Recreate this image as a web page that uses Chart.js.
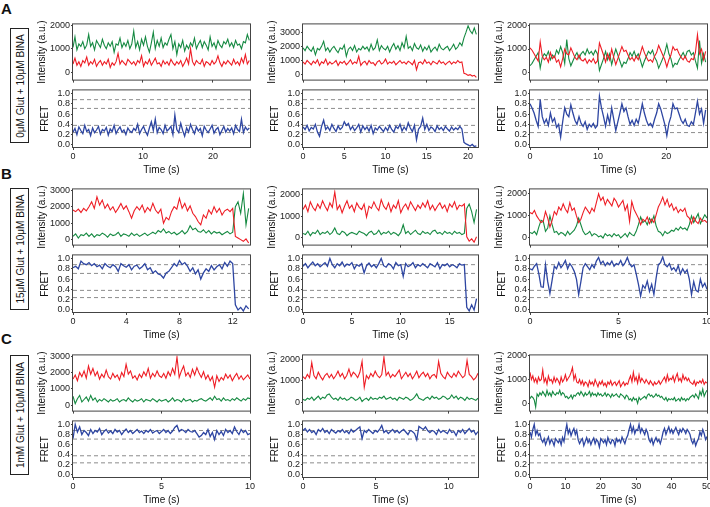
<!DOCTYPE html>
<html>
<head>
<meta charset="utf-8">
<script src="https://cdn.jsdelivr.net/npm/chart.js"></script>
<style>
  body { margin: 0; width: 710px; height: 507px; overflow: hidden; background: #fff; position: relative;
         font-family: "Liberation Sans", Arial, Helvetica, sans-serif; color: #111; }
  canvas { position: absolute; }
  .tag { position: absolute; left: 1px; font-weight: bold; font-size: 15px; line-height: 15px; }
  .cond { position: absolute; left: 10px; width: 19px; border: 1px solid #222; box-sizing: border-box; }
  .cond span { position: absolute; left: 50%; top: 50%; transform: translate(-50%, -50%) rotate(-90deg);
               white-space: nowrap; font-size: 10px; }
</style>
</head>
<body>
<div class="tag" style="top:1px">A</div>
<div class="tag" style="top:166px">B</div>
<div class="tag" style="top:331px">C</div>
<div class="cond" style="top:28px;height:115px"><span>0μM Glut + 10μM BINA</span></div>
<div class="cond" style="top:188px;height:122px"><span>15μM Glut + 10μM BINA</span></div>
<div class="cond" style="top:355px;height:120px"><span>1mM Glut + 10μM BINA</span></div>

<script>
// ---- data (frame time in s, intensities in a.u., FRET efficiency) ----
const fretLevels = [0.88, 0.71, 0.38, 0.24];
const fretTicks = [0, 0.2, 0.4, 0.6, 0.8, 1.0];
const intTicks2k = [0, 1000, 2000];
const intTicks3k = [0, 1000, 2000, 3000];

// A: 0µM Glut
const a1Dt = 0.28;
const a1Time = [0, 10, 20];
const a1Green = [1050,1500,950,1200,1100,1300,1000,1150,1600,1100,
  1250,950,1350,1200,1050,1400,1150,1000,1250,1100,
  1300,850,1200,1150,1450,1050,1250,1100,1350,1000,
  1200,1750,1050,1300,950,1400,1150,1500,1100,850,
  1250,1700,1000,1350,1100,1450,1050,1250,1150,1400,
  1600,1000,1300,750,1200,1050,1350,900,1150,1000,
  1250,1100,1450,1000,1200,1350,1050,1300,1150,950,
  1500,1100,1250,1000,1350,1150,1050,1300,1200,1400,
  1100,1250,1050,1350,1150,1200,1000,1300,1250,1600,1350];
const a1Red = [350,600,300,450,250,500,400,650,300,450,
  350,550,250,400,500,300,450,350,550,200,
  400,300,450,800,350,500,400,300,550,450,
  350,450,300,500,400,700,250,450,350,550,
  300,450,600,350,400,250,500,350,450,300,
  550,400,300,450,350,500,250,400,600,350,
  1000,450,300,500,400,350,550,250,450,400,
  300,500,350,450,700,400,250,450,350,500,
  400,300,550,350,450,300,600,400,750,350,500];
const a1Fret = [.25,.32,.2,.35,.28,.22,.38,.26,.3,.18,
  .33,.24,.29,.36,.21,.3,.27,.34,.19,.31,
  .26,.38,.22,.3,.35,.25,.29,.2,.33,.27,
  .24,.32,.28,.4,.22,.3,.36,.26,.19,.33,
  .45,.28,.5,.24,.34,.3,.22,.38,.27,.31,
  .36,.2,.58,.3,.24,.42,.28,.17,.33,.25,
  .4,.3,.22,.35,.27,.32,.18,.36,.29,.24,
  .31,.38,.23,.3,.34,.2,.28,.36,.25,.32,
  .27,.33,.22,.38,.3,.26,.5,.24,.35,.29,.33];

const a2Dt = 0.25;
const a2Time = [0, 5, 10, 15, 20];
const a2Green = [1900,1700,2000,1800,1650,1950,1400,1850,1750,2000,
  2350,1700,1900,1600,1850,2000,1750,1550,1900,1800,
  2100,1300,1800,1950,1700,2050,1600,1850,1750,2000,
  1800,1950,1650,2150,1750,1900,2450,1700,2050,1850,
  1750,2000,1600,1950,2200,1800,2050,1700,2250,1900,
  2700,1850,2000,1700,2200,1900,1800,2100,1650,1950,
  1750,2050,1600,1800,1950,1700,2150,1850,1750,1900,
  2000,1700,1900,2150,1800,1950,2250,2050,
  2600,3000,3450,3100,2900,3300,2850];
const a2Red = [900,750,1000,850,700,950,800,1050,650,900,
  800,1100,700,900,750,850,1000,650,900,800,
  950,700,850,1050,750,900,800,1300,650,850,
  950,700,1000,800,850,650,900,1000,750,850,
  1100,750,900,800,950,700,850,1000,800,900,
  750,950,850,700,1000,350,850,900,750,1050,
  800,900,700,950,850,750,1000,800,900,700,
  850,950,750,900,800,1000,850,900,
  100,50,-50,0,-100,-50,-200];
const a2Fret = [.35,.3,.38,.27,.34,.31,.4,.25,.17,.36,
  .48,.3,.35,.28,.4,.32,.26,.37,.3,.34,
  .45,.38,.42,.3,.36,.28,.33,.4,.25,.37,
  .3,.35,.27,.38,.22,.33,.29,.36,.31,.26,
  .34,.28,.38,.3,.25,.36,.32,.4,.27,.35,
  .29,.43,.33,.26,.38,.1,.31,.36,.52,.3,
  .4,.28,.35,.32,.26,.37,.3,.34,.28,.36,
  .31,.27,.35,.29,.33,.3,.36,.31,
  .05,.02,0,-.02,.01,-.03,-.02];

const a3Dt = 0.3;
const a3Time = [0, 10, 20];
const a3Red = [1050,950,800,650,500,1300,700,550,650,450,
  850,600,700,450,550,250,600,1000,800,750,
  1050,850,650,550,750,550,500,600,400,550,
  450,600,400,500,1250,1000,750,450,800,550,
  1000,650,350,600,850,1100,900,950,750,550,
  650,500,700,550,800,1100,850,650,500,550,
  450,700,850,1150,950,750,550,250,550,750,
  1100,950,1000,800,650,550,700,500,450,600,
  550,850,1600,800,1000,550,900];
const a3Green = [300,400,550,700,850,200,650,800,700,900,
  550,750,650,950,800,1100,850,400,1400,600,
  300,500,700,850,600,800,900,750,1000,800,
  900,750,950,800,100,350,600,900,550,800,
  350,700,1000,750,500,250,450,400,600,850,
  700,900,650,800,550,250,500,700,900,800,
  950,650,500,200,400,600,850,1200,800,600,
  250,400,350,550,700,850,650,900,950,750,
  850,500,200,1350,400,800,450];
const a3Fret = [.8,.72,.62,.48,.36,.88,.55,.42,.5,.38,
  .62,.45,.52,.34,.4,.15,.45,.72,.6,.55,
  .78,.62,.48,.4,.55,.42,.36,.45,.3,.4,
  .35,.42,.33,.38,.95,.72,.55,.36,.58,.42,
  .72,.5,.28,.45,.62,.8,.65,.72,.55,.4,
  .48,.38,.5,.42,.6,.8,.62,.48,.38,.42,
  .35,.5,.62,.8,.7,.55,.4,.18,.42,.55,
  .8,.7,.72,.6,.48,.42,.5,.38,.36,.45,
  .4,.62,.85,.6,.7,.42,.68];

// B: 15µM Glut
const b1Dt = 0.2;
const b1Time = [0, 4, 8, 12];
const b1Red = [1800,1700,1850,1650,1900,1750,2000,2300,1900,2600,
  2100,2400,1900,2150,1800,2000,1650,1900,2200,1850,
  2050,1700,1300,1750,2000,1800,2100,1650,1950,1750,
  2200,1800,1600,1850,1000,1350,1200,1700,2000,1850,
  2500,1900,2200,1750,2050,1600,1400,1100,900,1500,
  1300,1800,1550,2000,1650,1900,1500,1750,1850,1700,
  1900,200,100,0,-100,50,-200];
const b1Green = [200,350,100,300,250,400,200,350,150,300,
  250,400,300,150,350,250,300,450,200,350,
  300,200,400,250,350,200,300,400,250,350,
  450,350,550,450,650,400,500,350,450,300,
  400,550,350,500,850,600,700,500,450,600,
  400,550,350,500,400,450,300,400,500,350,
  450,2000,2300,1600,2800,900,1900];
const b1Fret = [.82,.85,.8,.95,.9,.88,.92,.86,.9,.84,
  .87,.8,.9,.85,.82,.88,.84,.75,.9,.86,
  .83,.88,.78,.85,.87,.8,.84,.9,.78,.82,
  .72,.76,.7,.68,.62,.72,.75,.82,.9,.85,
  .96,.88,.92,.85,.75,.82,.7,.78,.6,.72,
  .8,.75,.86,.78,.84,.88,.8,.92,.85,.95,
  .9,.1,0,.05,-.02,.08,.02];

const b2Dt = 0.25;
const b2Time = [0, 5, 10, 15];
const b2Red = [1300,1500,1200,1650,1400,1250,1550,1350,1700,1450,
  1250,1600,1400,2100,1300,1500,1150,1450,1700,1350,
  1500,1200,1600,1400,1300,1550,950,1450,1350,1650,
  1400,1250,1750,1450,1300,1600,1200,1500,1350,1700,
  1150,1400,1550,1300,1650,1450,1250,1500,1350,1600,
  1400,1700,1300,1500,1250,1450,1600,1350,1500,1200,
  1550,1400,1650,1300,1500,1450,1550,50,-150,-50,-200,50];
const b2Green = [200,150,300,100,250,200,350,150,250,200,
  300,150,250,450,200,150,300,250,100,200,
  250,200,150,300,250,200,100,250,300,150,
  200,350,150,250,200,300,150,250,200,100,
  250,600,200,300,150,250,350,200,150,300,
  200,250,150,300,350,200,250,150,300,200,
  250,150,300,200,250,150,200,1350,1550,1200,700,1300];
const b2Fret = [.85,.9,.82,.88,.93,.86,.9,.84,.88,.92,
  .85,1.0,.88,.82,.9,.86,.93,.84,.89,.87,
  .92,.8,.88,.85,.9,.72,.86,.91,.84,.88,
  .82,.9,1.0,.86,.83,.9,.87,.8,.92,.86,
  .88,.65,.9,.84,.87,.92,.82,.88,.85,.9,
  .86,.82,.9,.87,.84,.92,.8,.88,.86,.9,
  .84,.88,.86,.82,.9,.87,.88,.05,-.02,.1,0,.22];

const b3Dt = 0.125;
const b3Time = [0, 5, 10];
const b3Red = [1150,1100,1250,1000,850,700,750,1200,900,500,
  800,1200,1050,1400,1250,1550,1300,1150,1600,1250,
  1350,1000,700,850,1150,1400,1250,1100,1350,1200,
  1600,2000,1700,1850,1500,1750,1600,1450,1800,1650,
  1400,1550,1700,1250,1500,750,1650,1300,1100,900,
  600,850,750,950,650,850,700,1050,1400,1600,
  1850,1500,1750,1400,1550,1250,1400,1150,1300,1200,
  1350,1000,900,650,950,750,650,900,750,800,700];
const b3Green = [250,200,300,150,500,800,750,300,450,1000,
  600,250,300,150,250,200,100,300,150,250,
  350,550,900,600,300,150,200,300,100,200,
  150,50,100,0,200,100,150,50,200,100,
  150,0,100,200,50,250,150,100,300,600,
  950,700,800,600,900,700,1000,550,300,250,
  100,300,200,250,350,300,450,350,500,400,
  450,350,600,1000,700,900,1100,650,850,1050,900];
const b3Fret = [.8,.78,.85,.9,.7,.45,.44,.88,.55,.32,
  .58,.85,.8,.92,.82,.88,.96,.8,.9,.84,
  .75,.6,.3,.55,.82,.9,.84,.78,.88,.82,
  .95,1.02,.9,.95,.86,.92,.88,.95,.85,.9,
  .88,.96,.86,.92,1.02,.9,.84,.88,.7,.5,
  .27,.48,.42,.56,.36,.5,.3,.62,.88,.92,
  1.03,.88,.84,.9,.78,.82,.75,.86,.7,.8,
  .72,.78,.6,.3,.55,.38,.35,.6,.45,.52,.4];

// C: 1mM Glut
const c1Dt = 0.125;
const c1Time = [0, 5, 10];
const c1Red = [1600,1850,1500,2000,1750,2100,1650,2400,1900,2250,
  1800,2050,1600,1900,1700,2150,1750,1600,1950,1700,
  1850,1550,2000,1750,2500,1900,2100,1650,1800,1550,
  1900,1700,2050,1800,2250,1650,1950,1750,2100,1800,
  1700,1950,1650,2050,1800,2250,1900,2950,1700,2100,
  2400,1800,2000,1700,2200,1850,2300,1950,1700,2050,
  1600,1850,1500,1750,1100,1800,1450,1700,1550,1900,
  1650,1850,1500,1750,1950,1600,1800,1550,1700,1850,1600];
const c1Green = [550,100,400,600,200,350,500,250,600,300,
  450,200,350,250,400,300,200,350,250,300,
  400,200,300,350,250,450,300,200,350,250,
  300,400,200,350,300,250,400,300,200,350,
  250,300,350,200,300,450,250,350,300,200,
  400,250,300,350,200,300,250,350,400,300,
  250,350,450,300,550,350,400,250,450,300,
  350,250,400,300,450,350,250,400,300,450,400];
const c1Fret = [.72,1.0,.85,.95,.8,.88,.84,.78,.9,.82,
  .88,.85,.92,.8,.86,.9,.83,.87,.82,.9,
  .85,.88,.8,.86,.91,.84,.88,.82,.86,.9,
  .84,.87,.82,.88,.85,.9,.83,.86,.88,.82,
  .86,.9,.84,.88,.82,.87,.94,.98,.86,.9,
  .88,.84,.9,.86,.85,.88,.82,.75,.78,.84,
  .8,.9,.76,.84,.7,.88,.8,.86,.78,.9,
  .84,.88,.82,.95,.86,.8,.9,.84,.88,.8,.82];

const c2Dt = 0.15;
const c2Time = [0, 5, 10];
const c2Red = [1200,1100,1300,1150,1850,1250,1100,1400,1200,1050,
  1250,1350,1150,1300,1100,1250,1450,1200,1350,1100,
  1250,1550,1200,1400,1300,1150,1400,1900,700,1250,
  1100,1350,1200,1450,1250,1150,1300,2100,1250,1400,
  1150,1300,1200,1350,1500,1100,1250,1400,1200,1350,
  1100,1250,1450,1150,1300,1400,1200,1350,1100,1250,
  1300,1150,1900,1350,1200,1100,1400,1250,1150,1350,
  1200,1450,1300,1150,1250,1950,1300,1200,1050,1150,1350];
const c2Green = [150,100,200,150,250,100,200,300,150,250,
  200,350,400,250,150,200,100,250,150,200,
  100,150,250,200,100,150,250,50,150,200,
  100,250,150,200,150,250,200,300,150,200,
  250,150,200,100,250,200,150,250,200,100,
  150,250,400,200,150,100,200,250,150,300,
  200,250,150,200,300,250,150,200,350,200,
  300,150,250,200,100,250,150,200,150,100,200];
const c2Fret = [.88,.92,.85,.9,.84,.87,.8,.9,.86,.92,
  .84,.88,.82,.9,.86,.83,.88,.85,.9,.84,
  .87,.82,.9,.85,.88,.92,.95,.72,.88,.84,
  .9,.86,.82,.88,.85,.9,.98,.84,.88,.82,
  .86,.9,.84,.88,.83,.87,.9,.85,.8,.88,
  .86,.82,.7,.96,.93,.9,.95,.88,.84,.88,
  .86,.8,.9,.84,.88,.85,.82,.9,.84,.86,
  .78,.88,.84,.9,.82,.87,.92,.85,.88,.8,.86];

const c3Dt = 0.4;
const c3Time = [0, 10, 20, 30, 40, 50];
const c3Red = [1300,1000,1150,900,1050,850,1100,950,1000,1400,
  900,1050,800,1150,950,1000,850,1100,900,1050,
  950,800,1100,900,1000,1200,950,1050,1150,1300,
  1500,1000,1200,900,850,1000,800,950,750,900,
  850,700,950,800,900,750,1000,850,700,900,
  800,950,750,850,700,900,800,950,750,850,
  900,750,850,950,700,800,900,750,850,800,
  1000,1150,900,1300,950,1100,850,1200,900,1050,
  950,850,1000,900,800,950,850,750,900,800,
  850,950,800,900,1000,1100,900,1200,950,1050,
  1000,1150,900,1100,1250,950,1050,900,1200,1000,
  1100,950,1050,900,850,800,950,750,900,850,
  950,850,1000,800,900,850];
const c3Green = [200,300,250,150,-150,400,300,450,350,500,
  400,300,550,350,450,300,500,400,350,450,
  400,550,350,450,400,250,300,200,250,350,
  200,350,300,400,450,350,500,400,300,450,
  350,400,500,300,450,350,400,300,450,350,
  400,300,350,450,300,400,350,250,400,300,
  350,400,300,250,400,350,300,200,350,300,
  150,200,100,250,150,200,0,250,150,200,
  250,300,200,350,400,300,350,250,300,400,
  300,350,250,300,200,150,250,100,200,150,
  200,150,250,100,150,200,100,250,150,200,
  100,200,150,250,300,350,250,400,300,200,
  500,350,600,300,450,550];
const c3Fret = [.85,.75,.9,1.0,.8,.88,.78,.82,
  .7,.65,.72,.6,.68,.75,.62,.7,.66,.58,.72,.68,.64,.7,.6,.74,.66,
  .85,1.0,.82,.9,.78,.86,.92,.8,.88,
  .7,.62,.68,.72,.58,.66,.74,.64,.7,.6,.68,.73,.62,.7,.66,.55,.72,.68,
  .64,.7,.6,.74,.66,.62,.7,.68,.58,.72,.66,.7,.64,.75,.68,.62,.72,.78,
  .9,1.0,.85,.95,.82,.9,.88,1.0,.84,.92,.86,.8,.9,.84,
  .7,.65,.72,.6,.68,.74,.66,.7,.62,.72,
  .85,.92,.8,.88,.95,.84,.9,.82,.88,.94,.86,.8,.9,.85,.92,.88,.82,.9,.86,.8,
  .68,.62,.7,.58,.66,.72,
  .85,.78,.9,.82,.7,.76];

// ---- layout ----
Chart.defaults.font.family = '"Liberation Sans", Arial, Helvetica, sans-serif';
Chart.defaults.color = '#222';

const RED = '#ee1d25', GREEN = '#168a42', BLUE = '#2e46a2', AXIS = '#444', DASH = '#8c8c8c';
const colLeft = [73, 303, 530], colRight = [250, 478, 707];
const intTop = [24, 189, 355], intBottom = [82, 247, 413];
const fretTop = [90, 255, 421], fretBottom = [147, 312, 477];
const yAxisW = 41, padTop = 6;

const panels = [
  { row: 0, col: 0, dt: a1Dt, red: a1Red, green: a1Green, fret: a1Fret, time: a1Time, xMax: 25.3, iTicks: intTicks2k, iMin: -310, iMax: 2030 },
  { row: 0, col: 1, dt: a2Dt, red: a2Red, green: a2Green, fret: a2Fret, time: a2Time, xMax: 21.2, iTicks: intTicks3k, iMin: -350, iMax: 3550 },
  { row: 0, col: 2, dt: a3Dt, red: a3Red, green: a3Green, fret: a3Fret, time: a3Time, xMax: 26, iTicks: intTicks2k, iMin: -280, iMax: 2030 },
  { row: 1, col: 0, dt: b1Dt, red: b1Red, green: b1Green, fret: b1Fret, time: b1Time, xMax: 13.3, iTicks: intTicks3k, iMin: -300, iMax: 3050 },
  { row: 1, col: 1, dt: b2Dt, red: b2Red, green: b2Green, fret: b2Fret, time: b2Time, xMax: 17.9, iTicks: intTicks2k, iMin: -310, iMax: 2220 },
  { row: 1, col: 2, dt: b3Dt, red: b3Red, green: b3Green, fret: b3Fret, time: b3Time, xMax: 10, iTicks: intTicks2k, iMin: -300, iMax: 2200 },
  { row: 2, col: 0, dt: c1Dt, red: c1Red, green: c1Green, fret: c1Fret, time: c1Time, xMax: 10, iTicks: intTicks3k, iMin: -330, iMax: 3050 },
  { row: 2, col: 1, dt: c2Dt, red: c2Red, green: c2Green, fret: c2Fret, time: c2Time, xMax: 12, iTicks: intTicks2k, iMin: -370, iMax: 2180 },
  { row: 2, col: 2, dt: c3Dt, red: c3Red, green: c3Green, fret: c3Fret, time: c3Time, xMax: 50, iTicks: intTicks2k, iMin: -300, iMax: 2010 }
];

// box around the plot area
const frame = {
  id: 'frame',
  afterDraw(chart) {
    const { ctx, chartArea: a } = chart;
    ctx.save();
    ctx.strokeStyle = AXIS;
    ctx.lineWidth = 1;
    ctx.strokeRect(a.left - 0.5, a.top - 0.5, a.right - a.left + 1, a.bottom - a.top + 1);
    ctx.restore();
  }
};

function addCanvas(left, top, w, h) {
  const c = document.createElement('canvas');
  c.width = w; c.height = h;
  c.style.left = left + 'px'; c.style.top = top + 'px';
  c.style.width = w + 'px'; c.style.height = h + 'px';
  document.body.appendChild(c);
  return c;
}

function toPoints(values, dt) {
  return values.map((v, i) => ({ x: Math.round(i * dt * 1000) / 1000, y: v }));
}

function trace(values, dt, color, width) {
  return { data: toPoints(values, dt), borderColor: color, borderWidth: width, pointRadius: 0, tension: 0, order: 0 };
}

function fixedTicks(values) {
  return function (s) { s.ticks = values.map(v => ({ value: v })); };
}

function xScale(p, showLabels, height) {
  return {
    type: 'linear', min: 0, max: p.xMax,
    afterBuildTicks: fixedTicks(p.time),
    ticks: { display: showLabels, font: { size: 9 }, padding: 1, maxRotation: 0, autoSkip: false,
             callback: v => String(v) },
    grid: { drawOnChartArea: false, tickLength: 3, color: AXIS },
    border: { display: false },
    title: { display: showLabels, text: 'Time (s)', font: { size: 10 }, padding: { top: 0, bottom: 1 }, color: '#111' },
    afterFit(s) { s.height = height; }
  };
}

function yScale(min, max, tickValues, title, titlePad, fmt) {
  return {
    min: min, max: max,
    afterBuildTicks: fixedTicks(tickValues),
    ticks: { font: { size: 9 }, padding: 1, autoSkip: false, callback: fmt },
    grid: { drawOnChartArea: false, tickLength: 2, color: AXIS },
    border: { display: false },
    title: { display: true, text: title, font: { size: 10 }, padding: { top: titlePad, bottom: 0 }, color: '#111' },
    afterFit(s) { s.width = yAxisW; }
  };
}

const baseOptions = {
  responsive: false, animation: false, devicePixelRatio: 1,
  plugins: { legend: { display: false }, tooltip: { enabled: false } }
};

panels.forEach(p => {
  const L = colLeft[p.col], R = colRight[p.col];

  // intensity panel
  const ih = intBottom[p.row] - intTop[p.row];
  const c1 = addCanvas(L - yAxisW, intTop[p.row] - padTop, R - L + yAxisW + 3, ih + padTop + 4);
  new Chart(c1, {
    type: 'line',
    data: { datasets: [trace(p.red, p.dt, RED, 1.1), trace(p.green, p.dt, GREEN, 1.1)] },
    options: Object.assign({}, baseOptions, {
      layout: { padding: { top: padTop, right: 3, left: 0, bottom: 0 } },
      scales: {
        x: xScale(p, false, 4),
        y: yScale(p.iMin, p.iMax, p.iTicks, 'Intensity (a.u.)', 4, v => String(v))
      }
    }),
    plugins: [frame]
  });

  // FRET panel
  const fh = fretBottom[p.row] - fretTop[p.row];
  const c2 = addCanvas(L - yAxisW, fretTop[p.row] - padTop, R - L + yAxisW + 7, fh + padTop + 30);
  const dashed = fretLevels.map(lv => ({
    data: [{ x: 0, y: lv }, { x: p.xMax, y: lv }],
    borderColor: DASH, borderWidth: 1, borderDash: [4, 3], pointRadius: 0, order: 1
  }));
  new Chart(c2, {
    type: 'line',
    data: { datasets: [trace(p.fret, p.dt, BLUE, 1.3)].concat(dashed) },
    options: Object.assign({}, baseOptions, {
      layout: { padding: { top: padTop, right: 7, left: 0, bottom: 0 } },
      scales: {
        x: xScale(p, true, 30),
        y: yScale(-0.04, 1.06, fretTicks, 'FRET', 7, v => v.toFixed(1))
      }
    }),
    plugins: [frame]
  });
});
</script>
</body>
</html>
